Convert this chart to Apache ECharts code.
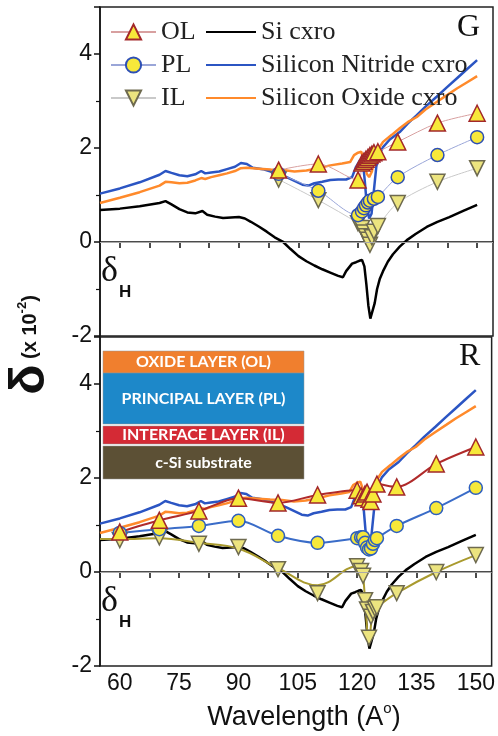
<!DOCTYPE html>
<html>
<head>
<meta charset="utf-8">
<script src="https://cdn.jsdelivr.net/npm/echarts@6/dist/echarts.min.js"></script>
<style>
  html, body { margin: 0; padding: 0; background: #fff; }
  #chart { width: 498px; height: 736px; }
</style>
</head>
<body>
<div id="chart"></div>
<script>
// cxro reference curves (wavelength, delta x 10^-2)
var siCxro = [[55,0.68],[60,0.71],[65,0.76],[70,0.83],[71.5,0.87],[73,0.80],[75,0.70],[77,0.63],[79,0.61],[80.8,0.66],
	[82,0.58],[84,0.54],[86,0.51],[88,0.52],[90,0.53],[91.5,0.50],[93,0.43],[95,0.33],[97,0.22],[99,0.10],[101,0.01],
	[103,-0.15],[105,-0.30],[107,-0.41],[109,-0.50],[111,-0.58],[113,-0.65],[115,-0.72],[116.2,-0.75],[117,-0.62],
	[118.5,-0.46],[119.5,-0.43],[120.3,-0.40],[121,-0.38],[121.6,-0.52],[122.1,-0.9],[122.6,-1.35],[123.1,-1.63],
	[123.6,-1.62],[124.2,-1.3],[124.8,-1.0],[125.5,-0.78],[126.3,-0.62],[127.5,-0.42],[128.8,-0.26],[130.5,-0.10],
	[132.3,0.04],[134.5,0.17],[137.3,0.32],[140,0.43],[143,0.53],[146.5,0.66],[150,0.79]];
var nitrideCxro = [[55,1.03],[60,1.14],[65,1.27],[70,1.43],[71.5,1.51],[73,1.47],[75,1.42],[77,1.40],[79,1.44],[80.5,1.51],
	[81.5,1.46],[83,1.48],[85,1.50],[87,1.55],[89,1.60],[90.5,1.68],[92,1.66],[93.5,1.58],[96,1.55],[98,1.50],[100,1.45],
	[102,1.38],[104,1.30],[106,1.22],[107.5,1.20],[109,1.25],[111,1.28],[113,1.32],[115,1.33],[117,1.33],[118.5,1.38],
	[119.5,1.6],[120.5,1.74],[121.2,1.72],[121.7,1.3],[122.2,0.8],[122.8,0.5],[123.4,0.6],[124,1.1],[124.6,1.6],
	[125.3,1.85],[126.3,2.02],[128,2.18],[130.5,2.34],[132.5,2.52],[134.8,2.70],[137,2.88],[139.8,3.09],[142.5,3.30],
	[145,3.49],[147.5,3.68],[150,3.87]];
var oxideCxro = [[55,0.83],[60,0.94],[65,1.06],[70,1.20],[71.5,1.28],[73,1.27],[75,1.25],[77,1.26],[79,1.31],[80.5,1.36],
	[81.5,1.34],[83,1.38],[85,1.42],[87,1.46],[89,1.51],[90.5,1.57],[92,1.58],[95,1.56],[98,1.54],[101,1.53],[104,1.50],
	[107,1.52],[110,1.57],[113,1.63],[116,1.67],[118,1.70],[119,1.85],[120,1.90],[120.8,1.92],[121.5,1.75],[122.2,1.45],
	[122.8,1.38],[123.5,1.5],[124.3,1.8],[125.3,2.0],[126.3,2.13],[128.5,2.28],[130.5,2.42],[132.5,2.55],[134.8,2.66],
	[137,2.82],[139.8,2.98],[142.5,3.13],[145,3.27],[147.5,3.40],[150,3.53]];

// G panel
var olG = [[100,1.53],[110,1.66],[120,1.32],[121,1.68],[121.5,1.72],[122,1.76],[122.5,1.80],[123,1.84],[123.5,1.87],
	[124,1.90],[125,1.92],[130,2.13],[140,2.53],[150,2.74]];
var plG = [[100,1.45],[110,1.09],[120,0.57],[121,0.65],[121.5,0.72],[122,0.78],[122.5,0.84],[123,0.88],[124,0.92],
	[125,0.96],[130,1.38],[140,1.85],[150,2.23]];
var ilG = [[100,1.33],[110,0.89],[120,0.40],[121,0.30],[121.5,0.20],[122,0.12],[122.5,0.05],[123,-0.06],[123.5,0.10],
	[124,0.22],[125,0.34],[130,0.83],[140,1.28],[150,1.57]];

// R panel
var olR = [[60,0.85],[70,1.10],[80,1.30],[90,1.57],[100,1.47],[110,1.64],[120,1.74],[121,1.62],[121.5,1.58],[122,1.66],
	[122.5,1.70],[123,1.55],[123.5,1.50],[124,1.66],[125,1.87],[130,1.81],[140,2.30],[150,2.66]];
var plR = [[60,0.83],[70,0.91],[80,0.98],[90,1.09],[100,0.77],[110,0.62],[120,0.72],[121,0.74],[121.5,0.74],[122,0.62],
	[122.5,0.52],[123,0.48],[123.5,0.50],[124,0.60],[124.5,0.68],[125,0.72],[130,0.98],[140,1.36],[150,1.79]];
var ilR = [[60,0.68],[70,0.74],[80,0.60],[90,0.53],[100,0.06],[110,-0.45],[120,0.12],[121,0.02],[121.5,-0.08],[122,-0.60],
	[122.5,-0.80],[123,-1.40],[123.5,-0.95],[124,-0.85],[124.5,-0.78],[125,-0.75],[130,-0.45],[140,0.00],[150,0.36]];
var ilFitR = [[55,0.70],[60,0.70],[70,0.72],[80,0.62],[90,0.50],[100,0.08],[110,-0.28],[120,0.12],[121,0.02],
	[121.5,-0.08],[122,-0.60],[123,-1.45],[124,-0.85],[125,-0.75],[130,-0.45],[140,0.00],[150,0.36]];

var xTicks = [60, 67.5, 75, 82.5, 90, 97.5, 105, 112.5, 120, 127.5, 135, 142.5, 150];
var xLabels = [60, 75, 90, 105, 120, 135, 150];

var chart = echarts.init(document.getElementById('chart'));

var triDown = 'path://M0,0L20,0L10,17.3Z';
var sansFont = 'Arial, "Liberation Sans", sans-serif';
var serifFont = '"Times New Roman", "Liberation Serif", serif';

function xAxisOf(grid, showLabel) {
	return {
		type: 'value', gridIndex: grid, min: 55, max: 154,
		axisLine: { lineStyle: { color: '#111', width: 1.5 } },
		axisTick: { customValues: xTicks, length: 6, lineStyle: { color: '#111', width: 1.5 } },
		axisLabel: { show: showLabel, customValues: xLabels, fontSize: 23, color: '#111', fontFamily: sansFont, margin: 6 },
		splitLine: { show: false }
	};
}
function yAxisOf(grid) {
	return {
		type: 'value', gridIndex: grid, min: -2, max: 5, interval: 2,
		axisLine: { show: true, lineStyle: { color: '#111', width: 1.5 } },
		axisTick: { show: true, length: 6, lineStyle: { color: '#111', width: 1.5 } },
		minorTick: { show: true, splitNumber: 2, length: 4, lineStyle: { color: '#111', width: 1.2 } },
		axisLabel: {
			fontSize: 23, color: '#111', fontFamily: sansFont, margin: 8,
			formatter: function (v) { return v === 5 ? '' : String(v); }
		},
		splitLine: { show: false }
	};
}
function curve(name, data, color, grid, extra) {
	var s = {
		name: name, type: 'line', data: data, xAxisIndex: grid, yAxisIndex: grid,
		showSymbol: false, symbol: 'none', lineStyle: { color: color, width: 2.5 },
		// transparent item colour so the legend shows only the line
		itemStyle: { color: 'rgba(0,0,0,0)' },
		z: 2, silent: true
	};
	if (extra) s.markLine = extra;
	return s;
}
function markers(name, data, grid, symbol, fill, stroke, lineColor, lineWidth, size) {
	return {
		name: name, type: 'line', data: data, xAxisIndex: grid, yAxisIndex: grid, smooth: 0.3,
		symbol: symbol, symbolSize: size, showAllSymbol: true,
		lineStyle: { color: lineColor, width: lineWidth },
		itemStyle: { color: fill, borderColor: stroke, borderWidth: 1.5 },
		z: 4
	};
}
var zeroLine = {
	silent: true, symbol: 'none', label: { show: false },
	lineStyle: { color: '#aaa', width: 1, type: 'solid' },
	data: [{ yAxis: 0 }]
};
function layerBox(y, h, fill, text) {
	return {
		type: 'rect', shape: { x: 103, y: y, width: 201, height: h },
		style: { fill: fill, stroke: 'rgba(150,150,150,0.5)', lineWidth: 1 },
		textContent: { style: { text: text, fill: '#fff', fontSize: 16, fontWeight: 'bold', fontFamily: 'Lato' } },
		textConfig: { position: 'inside' }
	};
}

var option = {
	animation: false,
	grid: [
		{ left: 100, right: 5, top: 7, height: 329, show: true, borderColor: '#222', borderWidth: 1.5 },
		{ left: 100, right: 5, top: 337, height: 329, show: true, borderColor: '#222', borderWidth: 1.5 }
	],
	xAxis: [xAxisOf(0, false), xAxisOf(1, true)],
	yAxis: [yAxisOf(0), yAxisOf(1)],
	legend: [{
		orient: 'vertical', left: 105, top: 14, itemWidth: 45, itemHeight: 19, itemGap: 7,
		textStyle: { fontFamily: serifFont, fontSize: 26, color: '#222', lineHeight: 26 },
		data: ['OL', 'PL', 'IL']
	}, {
		orient: 'vertical', left: 200, top: 14, itemWidth: 50, itemHeight: 19, itemGap: 7,
		textStyle: { fontFamily: serifFont, fontSize: 26, color: '#222', lineHeight: 26 },
		data: ['Si cxro', 'Silicon Nitride cxro', 'Silicon Oxide cxro']
	}],
	series: [
		curve('Si cxro', siCxro, '#000', 0, zeroLine),
		curve('Silicon Nitride cxro', nitrideCxro, '#2b55c3', 0),
		curve('Silicon Oxide cxro', oxideCxro, '#ff8a2b', 0),
		markers('IL', ilG, 0, triDown, '#ece47f', '#6e6a4f', '#c9c9c9', 1, 15),
		markers('PL', plG, 0, 'circle', '#f7e83a', '#2d4fb5', '#9aa6d8', 1, 13),
		markers('OL', olG, 0, 'triangle', '#f7e83a', '#a3282a', '#d8a0a0', 1, 16),

		curve('Si cxro R', siCxro, '#000', 1, zeroLine),
		curve('Silicon Nitride cxro R', nitrideCxro, '#2b55c3', 1),
		curve('Silicon Oxide cxro R', oxideCxro, '#ff8a2b', 1),
		{
			name: 'IL fit R', type: 'line', data: ilFitR, xAxisIndex: 1, yAxisIndex: 1, smooth: 0.4,
			symbol: 'none', lineStyle: { color: '#a99a2e', width: 2 }, z: 3
		},
		{
			name: 'IL R', type: 'scatter', data: ilR, xAxisIndex: 1, yAxisIndex: 1,
			symbol: triDown, symbolSize: 15,
			itemStyle: { color: '#ece47f', borderColor: '#6e6a4f', borderWidth: 1.5, opacity: 1 }, z: 4
		},
		markers('PL R', plR, 1, 'circle', '#f7e83a', '#2d5fc0', '#3a6cc8', 2, 13),
		markers('OL R', olR, 1, 'triangle', '#f7e83a', '#a3282a', '#b02a2a', 2, 16)
	],
	graphic: [
		// y axis title
		{
			type: 'text', x: 30, y: 345, rotation: Math.PI / 2,
			style: {
				text: '{d|δ}{t| (x 10}{s|-2}{t|)}',
				align: 'center', verticalAlign: 'middle',
				rich: {
					d: { fontSize: 50, fontWeight: 'bold', fontFamily: sansFont, fill: '#111', verticalAlign: 'middle' },
					t: { fontSize: 20, fontWeight: 'bold', fontFamily: sansFont, fill: '#111', verticalAlign: 'middle' },
					s: { fontSize: 13, fontWeight: 'bold', fontFamily: sansFont, fill: '#111', verticalAlign: 'middle', padding: [0, 0, 16, 0] }
				}
			}
		},
		// x axis title
		{
			type: 'text', x: 304, y: 718,
			style: {
				text: '{w|Wavelength (A}{s|o}{w|)}',
				align: 'center', verticalAlign: 'middle',
				rich: {
					w: { fontSize: 27, fontFamily: sansFont, fill: '#111', verticalAlign: 'middle' },
					s: { fontSize: 15, fontFamily: sansFont, fill: '#111', verticalAlign: 'middle', padding: [0, 0, 18, 0] }
				}
			}
		},
		{ type: 'text', x: 457, y: 12, style: { text: 'G', fontSize: 32, fontFamily: serifFont, fill: '#111' } },
		{ type: 'text', x: 459, y: 341, style: { text: 'R', fontSize: 32, fontFamily: serifFont, fill: '#111' } },
		{ type: 'text', x: 101, y: 254, style: { text: 'δ', fontSize: 36, fontFamily: serifFont, fill: '#111' } },
		{ type: 'text', x: 119, y: 284, style: { text: 'H', fontSize: 17, fontWeight: 'bold', fontFamily: sansFont, fill: '#111' } },
		{ type: 'text', x: 101, y: 584, style: { text: 'δ', fontSize: 36, fontFamily: serifFont, fill: '#111' } },
		{ type: 'text', x: 119, y: 614, style: { text: 'H', fontSize: 17, fontWeight: 'bold', fontFamily: sansFont, fill: '#111' } },

		// layer stack sketch
		layerBox(351, 22, '#f07f2e', 'OXIDE LAYER (OL)'),
		layerBox(373, 51, '#1d88c9', 'PRINCIPAL LAYER (PL)'),
		layerBox(426, 18, '#d42a35', 'INTERFACE LAYER (IL)'),
		layerBox(446, 33, '#5c5035', 'c-Si substrate')
	]
};
chart.setOption(option);
window.onresize = chart.resize;
</script>
</body>
</html>
